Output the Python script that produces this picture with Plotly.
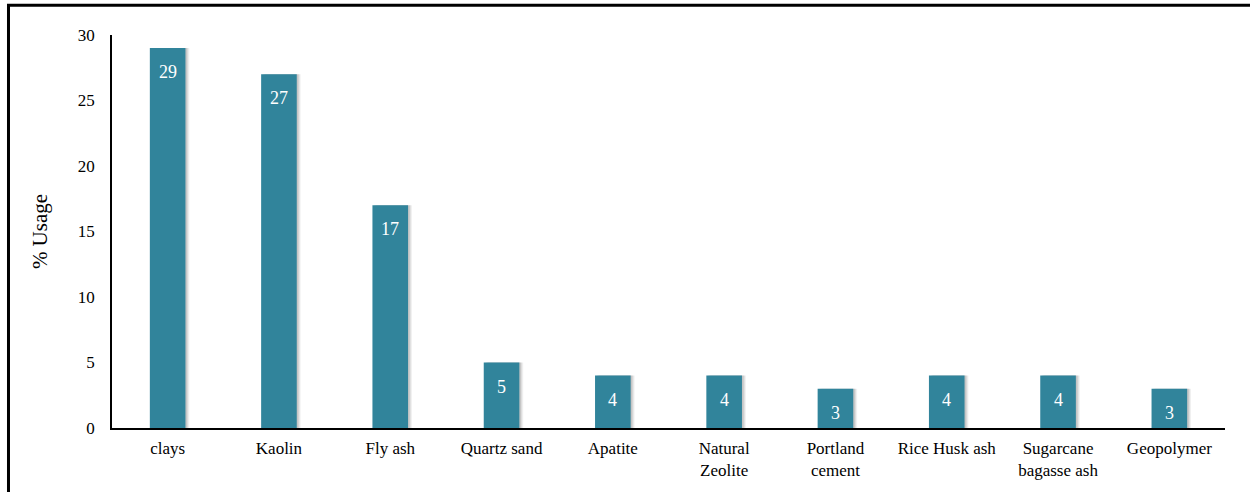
import plotly.graph_objects as go

categories = ["clays", "Kaolin", "Fly ash", "Quartz sand", "Apatite",
              "Natural<br>Zeolite", "Portland<br>cement", "Rice Husk ash",
              "Sugarcane<br>bagasse ash", "Geopolymer"]
usage = [29, 27, 17, 5, 4, 4, 3, 4, 4, 3]
y_ticks = [0, 5, 10, 15, 20, 25, 30]

FONT = "Times New Roman, Liberation Serif, serif"
BAR = "#31849B"

fig = go.Figure()
# soft shadow to the right of each bar
for off, alpha in [(-0.125, 0.06), (-0.135, 0.08), (-0.145, 0.10)]:
    fig.add_trace(go.Bar(
        x=categories, y=usage, width=0.32, offset=off,
        marker=dict(color=f"rgba(0,0,0,{alpha})", line=dict(width=0)),
        hoverinfo="skip", showlegend=False,
    ))
fig.add_trace(go.Bar(
    x=categories, y=usage, width=0.32, offset=-0.16,
    marker=dict(color=BAR, line=dict(width=0)),
    showlegend=False,
))

annotations = [
    dict(x=c, y=v, xref="x", yref="y", text=str(v), showarrow=False,
         yanchor="top", yshift=-12,
         font=dict(family=FONT, size=18, color="white"))
    for c, v in zip(categories, usage)
]

fig.update_layout(
    width=1250, height=492,
    margin=dict(l=112, r=25, t=35, b=64),
    paper_bgcolor="white", plot_bgcolor="white",
    barmode="overlay",
    font=dict(family=FONT, size=17, color="black"),
    xaxis=dict(
        showline=True, linecolor="black", linewidth=1.5,
        showgrid=False, ticks="", ticklabelstandoff=4,
        tickfont=dict(family=FONT, size=17, color="black"),
        zeroline=False,
    ),
    yaxis=dict(
        range=[0, 30], tickvals=y_ticks, showline=True, linecolor="black",
        linewidth=1.5, showgrid=False, zeroline=False, ticks="",
        ticklabelstandoff=12,
        tickfont=dict(family=FONT, size=17, color="black"),
        title=dict(text="% Usage", font=dict(family=FONT, size=21, color="black"),
                   standoff=24),
    ),
    annotations=annotations,
    shapes=[dict(type="rect", xref="paper", yref="paper",
                 x0=-0.093, x1=1.05, y0=-0.3, y1=1.076,
                 line=dict(color="black", width=3), layer="above")],
)

fig.write_html("out.html")
